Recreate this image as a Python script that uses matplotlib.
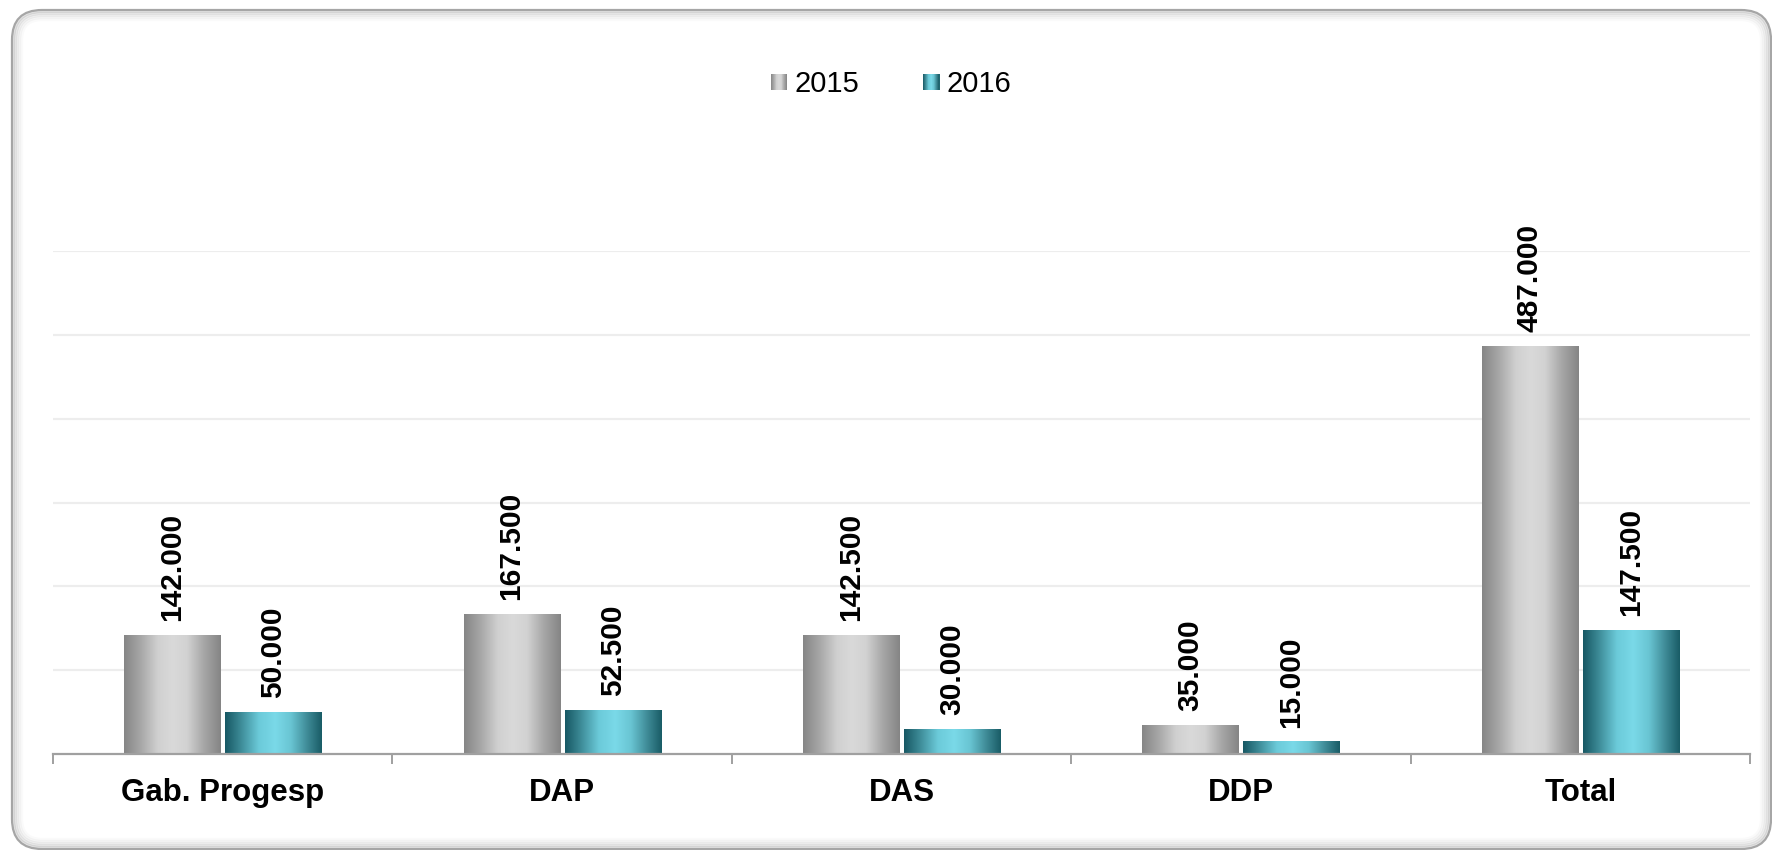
import numpy as np
import matplotlib
matplotlib.use("Agg")
import matplotlib.pyplot as plt
from matplotlib.patches import FancyBboxPatch, Rectangle, Patch
from matplotlib.colors import LinearSegmentedColormap
from matplotlib.legend_handler import HandlerBase

categories = ["Gab. Progesp", "DAP", "DAS", "DDP", "Total"]
series_names = ["2015", "2016"]
values_2015 = [142.0, 167.5, 142.5, 35.0, 487.0]
values_2016 = [50.0, 52.5, 30.0, 15.0, 147.5]
value_labels_2015 = ["142.000", "167.500", "142.500", "35.000", "487.000"]
value_labels_2016 = ["50.000", "52.500", "30.000", "15.000", "147.500"]

plt.rcParams['font.family'] = ['Liberation Sans', 'DejaVu Sans']

W, H = 1772, 850
fig = plt.figure(figsize=(W / 100, H / 100), dpi=100)
fig.patch.set_facecolor('white')

# background frame (pixel-based axes)
bg = fig.add_axes([0, 0, 1, 1], zorder=0)
bg.set_xlim(0, W)
bg.set_ylim(0, H)
bg.axis('off')
x0, y0, x1, y1 = 12, 1, 1771, 840
# inner soft shadow
for i, a in enumerate([0.10, 0.07, 0.05, 0.03, 0.02]):
    d = 1.5 + i * 2.0
    bg.add_patch(FancyBboxPatch((x0 + d, y0 + d), (x1 - x0) - 2 * d, (y1 - y0) - 2 * d,
                                boxstyle="round,pad=0,rounding_size=%f" % (30 - d),
                                facecolor='none', edgecolor=(0, 0, 0, a), lw=2.5))
bg.add_patch(FancyBboxPatch((x0, y0), x1 - x0, y1 - y0,
                            boxstyle="round,pad=0,rounding_size=30",
                            facecolor='none', edgecolor='#a6a6a6', lw=1.6))

gray_cmap = LinearSegmentedColormap.from_list(
    "g", [(0, "#868686"), (0.18, "#a9a9a9"), (0.35, "#d0d0d0"), (0.5, "#d9d9d9"),
          (0.65, "#d2d2d2"), (0.82, "#a8a8a8"), (1, "#858585")])
teal_cmap = LinearSegmentedColormap.from_list(
    "t", [(0, "#175864"), (0.15, "#3a8793"), (0.35, "#6bcad9"), (0.52, "#7ad9e8"),
          (0.68, "#69c5d3"), (0.85, "#3f8b97"), (1, "#195c66")])

ax = fig.add_axes([53 / W, 1 - 754 / H, (1750 - 53) / W, (754 - 251) / H], zorder=1)
ax.patch.set_alpha(0)

x = np.arange(len(categories))
bw = 0.283
off = 0.149

grad = np.linspace(0, 1, 256).reshape(1, -1)

def gradient_bars(bars, cmap):
    for b in bars:
        bx, by = b.get_x(), b.get_y()
        w, h = b.get_width(), b.get_height()
        im = ax.imshow(grad, cmap=cmap, extent=[bx, bx + w, by, by + h],
                       aspect='auto', zorder=3, interpolation='bilinear')
        im.set_clip_path(b)

bars15 = ax.bar(x - off, values_2015, bw, color='none', edgecolor='none', zorder=3)
bars16 = ax.bar(x + off, values_2016, bw, color='none', edgecolor='none', zorder=3)
gradient_bars(bars15, gray_cmap)
gradient_bars(bars16, teal_cmap)

for bars, labels in ((bars15, value_labels_2015), (bars16, value_labels_2016)):
    for b, lab in zip(bars, labels):
        ax.annotate(lab, (b.get_x() + b.get_width() / 2, b.get_height()),
                    xytext=(0, 10), textcoords='offset points', rotation=90,
                    ha='center', va='bottom', fontsize=21.5, fontweight='bold', color='black')

ax.set_xlim(-0.5, len(categories) - 0.5)
ax.set_ylim(0, 600)
ax.set_yticks(np.arange(100, 601, 100))
ax.yaxis.grid(True, color='#ededed', lw=1.6)
ax.set_axisbelow(True)
ax.tick_params(axis='y', left=False, labelleft=False)
ax.set_xticks(x)
ax.set_xticklabels(categories, fontsize=22.5, fontweight='bold')
ax.set_xticks(np.arange(-0.5, len(categories), 1.0), minor=True)
ax.tick_params(axis='x', which='major', length=0, pad=17)
ax.tick_params(axis='x', which='minor', length=7.2, width=1.4, color='#a0a0a0', direction='out')
for s in ['left', 'right', 'top']:
    ax.spines[s].set_visible(False)
ax.spines['bottom'].set_color('#a0a0a0')
ax.spines['bottom'].set_linewidth(1.6)
ax.spines['bottom'].set_zorder(4)


class GradHandler(HandlerBase):
    def __init__(self, cmap):
        super().__init__()
        self.cmap = cmap

    def create_artists(self, legend, orig_handle, xdescent, ydescent, width, height, fontsize, trans):
        n = 16
        side = min(width, height)
        arts = []
        for i in range(n):
            r = Rectangle((-xdescent + side * i / n, -ydescent + (height - side) / 2),
                          side / n + 0.3, side, facecolor=self.cmap((i + 0.5) / n),
                          edgecolor='none', transform=trans)
            arts.append(r)
        return arts

h15 = Patch(label=series_names[0])
h16 = Patch(label=series_names[1])
fig.legend(handles=[h15, h16], loc='center', bbox_to_anchor=(891 / W, 1 - 84 / H),
           ncol=2, frameon=False, fontsize=21, handlelength=0.55, handleheight=0.55,
           handletextpad=0.25, columnspacing=2.2,
           handler_map={h15: GradHandler(gray_cmap), h16: GradHandler(teal_cmap)})

fig.savefig("out.png", dpi=100, facecolor='white')
